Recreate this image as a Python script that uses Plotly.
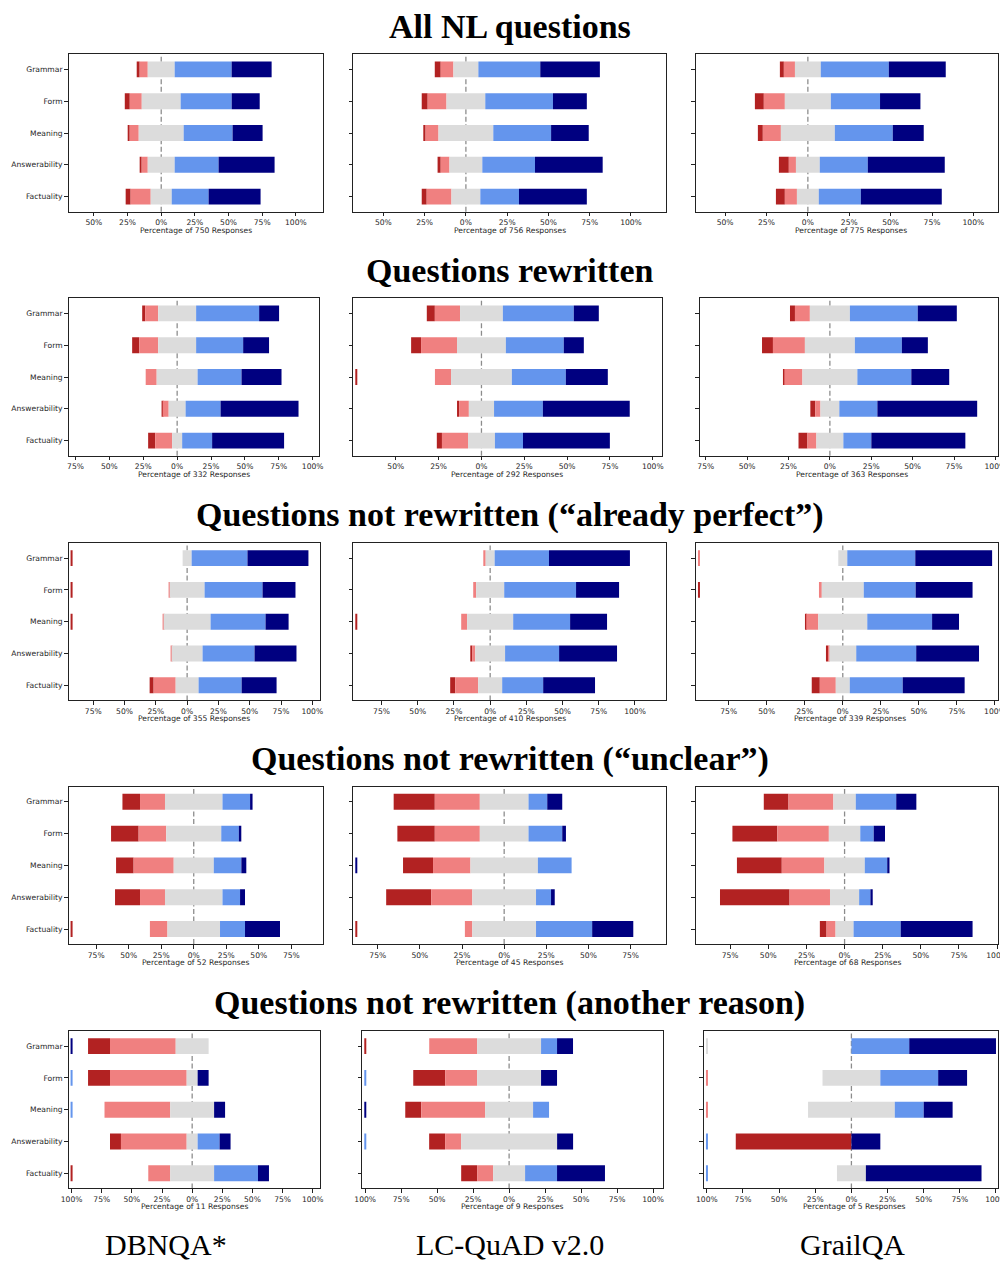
import plotly.graph_objects as go

# ---------------- data ----------------
questions = ["Grammar", "Form", "Meaning", "Answerability", "Factuality"]
levels = ["Strongly disagree", "Disagree", "Neutral", "Agree", "Strongly agree"]
level_colors = ["#b22222", "#f08080", "#dcdcdc", "#6495ed", "#000080"]

section_titles = [
    "All NL questions",
    "Questions rewritten",
    "Questions not rewritten (\u201calready perfect\u201d)",
    "Questions not rewritten (\u201cunclear\u201d)",
    "Questions not rewritten (another reason)",
]
datasets = ["DBNQA*", "LC-QuAD v2.0", "GrailQA"]
responses = [[750, 756, 775], [332, 292, 363], [355, 410, 339], [52, 45, 68], [11, 9, 5]]

# percentages per question: [strongly disagree, disagree, neutral, agree, strongly agree]
all_dbnqa = [[2.2, 6.0, 20.0, 42.3, 29.7], [3.7, 8.9, 28.9, 37.9, 20.8], [1.5, 6.7, 33.4, 36.3, 22.3],
             [1.5, 4.5, 20.0, 32.6, 41.6], [3.7, 14.9, 15.6, 27.4, 38.6]]
all_lcquad = [[3.6, 7.7, 15.1, 37.5, 36.1], [3.6, 11.4, 23.5, 41.0, 20.5], [1.2, 7.8, 33.2, 35.0, 22.8],
              [1.9, 5.3, 19.9, 31.9, 41.0], [3.0, 15.0, 17.5, 23.4, 41.1]]
all_grailqa = [[2.4, 6.7, 15.6, 41.1, 34.4], [5.4, 12.7, 27.8, 29.7, 24.4], [3.0, 10.9, 32.6, 35.0, 18.7],
               [6.0, 4.3, 14.4, 29.0, 46.5], [5.4, 7.3, 13.2, 25.4, 48.9]]

rew_dbnqa = [[2.2, 9.6, 28.0, 46.5, 14.7], [5.2, 14.0, 28.0, 34.7, 19.1], [0.0, 8.1, 30.2, 32.4, 29.5],
             [0.7, 4.4, 12.5, 25.8, 57.5], [5.2, 12.5, 7.4, 22.1, 53.1]]
rew_lcquad = [[4.7, 14.7, 25.0, 41.4, 14.6], [5.8, 21.0, 28.5, 33.8, 11.7], [0.0, 9.4, 35.5, 31.5, 24.5],
              [1.2, 5.7, 14.7, 28.5, 50.7], [3.0, 15.2, 15.7, 16.4, 50.7]]
rew_grailqa = [[3.0, 9.0, 24.2, 41.0, 23.6], [6.6, 19.3, 30.2, 28.4, 15.7], [0.6, 10.9, 33.2, 32.6, 22.9],
               [3.0, 3.1, 11.4, 23.0, 60.3], [5.4, 5.4, 16.3, 16.9, 56.8]]

perf_dbnqa = [[0.0, 0.0, 7.2, 44.6, 48.7], [0.0, 0.8, 27.9, 46.3, 26.3], [0.0, 0.8, 37.5, 43.9, 18.4],
              [0.0, 0.8, 24.7, 41.5, 33.5], [3.2, 17.6, 18.3, 34.4, 27.9]]
perf_lcquad = [[0.0, 1.3, 6.2, 37.5, 55.9], [0.0, 2.0, 19.4, 49.6, 29.7], [0.0, 4.1, 31.8, 39.3, 25.5],
               [0.7, 2.1, 20.6, 37.3, 40.0], [3.5, 15.8, 16.6, 28.3, 35.8]]
perf_grailqa = [[0.0, 0.0, 5.9, 44.7, 50.5], [0.0, 1.3, 27.6, 34.1, 37.4], [0.6, 7.9, 32.2, 42.6, 17.7],
                [1.3, 0.7, 17.7, 39.4, 41.3], [5.3, 10.5, 9.2, 34.8, 40.7]]

uncl_dbnqa = [[13.5, 19.2, 44.2, 21.2, 1.9], [21.2, 21.2, 42.3, 13.5, 1.9], [13.5, 30.8, 30.8, 21.2, 3.8],
              [19.2, 19.2, 44.2, 13.5, 3.8], [0.0, 13.5, 40.4, 19.2, 26.9]]
uncl_lcquad = [[24.4, 26.7, 28.9, 11.1, 8.9], [22.2, 26.7, 28.9, 20.0, 2.2], [17.8, 22.2, 40.0, 20.0, 0.0],
               [26.7, 24.4, 37.8, 8.9, 2.2], [0.0, 4.4, 37.8, 33.3, 24.4]]
uncl_grailqa = [[16.2, 29.4, 14.7, 26.5, 13.2], [29.4, 33.8, 20.6, 8.8, 7.4], [29.4, 27.9, 26.5, 14.7, 1.5],
                [45.6, 26.5, 19.1, 7.4, 1.5], [4.4, 5.9, 11.8, 30.9, 47.1]]

oth_dbnqa = [[18.2, 54.5, 27.3, 0.0, 0.0], [18.2, 63.6, 9.1, 0.0, 9.1], [0.0, 54.5, 36.4, 0.0, 9.1],
             [9.1, 54.5, 9.1, 18.2, 9.1], [0.0, 18.2, 36.4, 36.4, 9.1]]
oth_lcquad = [[0.0, 33.3, 44.4, 11.1, 11.1], [22.2, 22.2, 44.4, 0.0, 11.1], [11.1, 44.4, 33.3, 11.1, 0.0],
              [11.1, 11.1, 66.7, 0.0, 11.1], [11.1, 11.1, 22.2, 22.2, 33.3]]
oth_grailqa = [[0.0, 0.0, 0.0, 40.0, 60.0], [0.0, 0.0, 40.0, 40.0, 20.0], [0.0, 0.0, 60.0, 20.0, 20.0],
               [80.0, 0.0, 0.0, 0.0, 20.0], [0.0, 0.0, 20.0, 0.0, 80.0]]

panels = [
    [all_dbnqa, all_lcquad, all_grailqa],
    [rew_dbnqa, rew_lcquad, rew_grailqa],
    [perf_dbnqa, perf_lcquad, perf_grailqa],
    [uncl_dbnqa, uncl_lcquad, uncl_grailqa],
    [oth_dbnqa, oth_lcquad, oth_grailqa],
]

# thin slivers visible at the left edge of some panels: (row, col) -> [(question, level index)]
edge_slivers = {
    (1, 1): [("Meaning", 0)],
    (2, 0): [("Grammar", 0), ("Form", 0), ("Meaning", 0)],
    (2, 1): [("Meaning", 0)],
    (2, 2): [("Grammar", 1), ("Form", 0)],
    (3, 0): [("Factuality", 0)],
    (3, 1): [("Meaning", 4), ("Factuality", 0)],
    (4, 0): [("Grammar", 4), ("Form", 3), ("Meaning", 3), ("Factuality", 0)],
    (4, 1): [("Grammar", 0), ("Form", 3), ("Meaning", 4), ("Answerability", 3)],
    (4, 2): [("Grammar", 2), ("Form", 1), ("Meaning", 1), ("Answerability", 3), ("Factuality", 3)],
}

# ---------------- layout geometry (target pixels in the picture) ----------------
W, H = 1008, 1261
X_SCALE, X_OFF, Y_OFF = 0.9841, 15.37, 8.0   # page placement compensation
MAX_RIGHT = 998.5                              # right-most visible picture column
row_top = [54.3, 298.3, 543.0, 786.7, 1031.0]
row_h = 157.4
col_px = [
    [(68, 323), (353, 666), (696, 1007)],
    [(68, 319), (353, 661.7), (700, 1004)],
    [(68, 320), (353, 666), (696, 1005)],
    [(68, 323), (353, 666), (696, 999)],
    [(68, 320), (362, 662.7), (704, 1005)],
]
x_ranges = [
    [(-68.8, 120.4), (-68.2, 121.2), (-67.6, 120.1)],
    [(-80.1, 104.9), (-74.8, 105.2), (-78.5, 105.0)],
    [(-94.7, 106.4), (-94.5, 121.4), (-96.5, 106.4)],
    [(-96.2, 99.6), (-89.5, 96.0), (-97.4, 101.0)],
    [(-102.5, 106.3), (-102.0, 106.7), (-102.0, 106.0)],
]


def fx(px):
    return ((px - X_OFF) / X_SCALE) / W


def fy(py):
    return 1 - (py - Y_OFF) / H


TXT = "#262626"
tick_font = dict(family="DejaVu Sans", size=7.6, color=TXT)

fig = go.Figure()
layout = {}
annotations = []
shapes = []

for r in range(5):
    for c in range(3):
        n = r * 3 + c + 1
        xa = "x" if n == 1 else f"x{n}"
        ya = "y" if n == 1 else f"y{n}"
        data = panels[r][c]
        # diverging stacked bars, neutral centred on zero
        lefts = [-(row[0] + row[1] + row[2] / 2.0) for row in data]
        cum = list(lefts)
        for li in range(5):
            widths = [row[li] for row in data]
            fig.add_trace(go.Bar(
                y=questions, x=widths, base=list(cum), orientation="h",
                marker=dict(color=level_colors[li], line=dict(width=0)),
                width=0.5, xaxis=xa, yaxis=ya, showlegend=False,
                name=levels[li], hoverinfo="skip",
            ))
            cum = [cum[i] + widths[i] for i in range(5)]

        x0px, x1px = col_px[r][c]
        xmin, xmax = x_ranges[r][c]
        pxu = (x1px - x0px) / (xmax - xmin)
        if x1px > MAX_RIGHT:  # keep the same scale, trim empty space on the right
            xmax = xmin + (MAX_RIGHT - x0px) / pxu
            x1px = MAX_RIGHT
        # edge slivers
        for q, li in edge_slivers.get((r, c), []):
            fig.add_trace(go.Bar(
                y=[q], x=[1.0 / pxu], base=[xmin + 2.2 / pxu], orientation="h",
                marker=dict(color=level_colors[li], line=dict(width=0)),
                width=0.5, xaxis=xa, yaxis=ya, showlegend=False, hoverinfo="skip",
            ))

        ticks = [t for t in range(-100, 101, 25) if xmin - 1e-9 <= t <= xmax + 1e-9]
        axis_common = dict(
            showline=True, mirror=True, linecolor="#222", linewidth=1,
            showgrid=False, zeroline=False, ticks="outside", ticklen=3.5,
            tickwidth=0.8, tickcolor="#222", tickfont=tick_font, fixedrange=True,
        )
        layout["xaxis" if n == 1 else f"xaxis{n}"] = dict(
            domain=[fx(x0px), min(fx(x1px), 1.0)], range=[xmin, xmax], anchor=ya,
            tickvals=ticks, ticktext=[f"{abs(t)}%" for t in ticks], **axis_common,
        )
        top = row_top[r]
        layout["yaxis" if n == 1 else f"yaxis{n}"] = dict(
            domain=[fy(top + row_h), fy(top)], anchor=xa,
            type="category", categoryorder="array", categoryarray=questions,
            range=[4.475, -0.475], showticklabels=(c == 0), **axis_common,
        )
        shapes.append(dict(
            type="line", xref=xa, yref=f"{ya} domain", x0=0, x1=0, y0=0, y1=1,
            line=dict(color="rgba(0,0,0,0.45)", width=1.3, dash="5px,2.5px"), layer="below",
        ))
        annotations.append(dict(
            xref="paper", yref=f"{ya} domain", x=fx((col_px[r][c][0] + col_px[r][c][1]) / 2.0),
            y=0, yshift=-18.3, xanchor="center", yanchor="middle", showarrow=False,
            text=f"Percentage of {responses[r][c]} Responses", font=tick_font,
        ))

    annotations.append(dict(
        xref="paper", yref="paper", x=fx(509.5), y=fy(row_top[r] - 28),
        xanchor="center", yanchor="middle", showarrow=False,
        text=f"<b>{section_titles[r]}</b>",
        font=dict(family="Liberation Serif", size=34, color="black"),
    ))

label_x = [166, 509.5, 852.5]
for c in range(3):
    annotations.append(dict(
        xref="paper", yref="paper", x=fx(label_x[c]), y=fy(1244),
        xanchor="center", yanchor="middle", showarrow=False, text=datasets[c],
        font=dict(family="Liberation Serif", size=30, color="black"),
    ))

fig.update_layout(
    width=W, height=H, margin=dict(l=0, r=0, t=0, b=0),
    paper_bgcolor="white", plot_bgcolor="white", barmode="overlay",
    annotations=annotations, shapes=shapes, **layout,
)

fig.write_html("out.html", config={"displayModeBar": False})
